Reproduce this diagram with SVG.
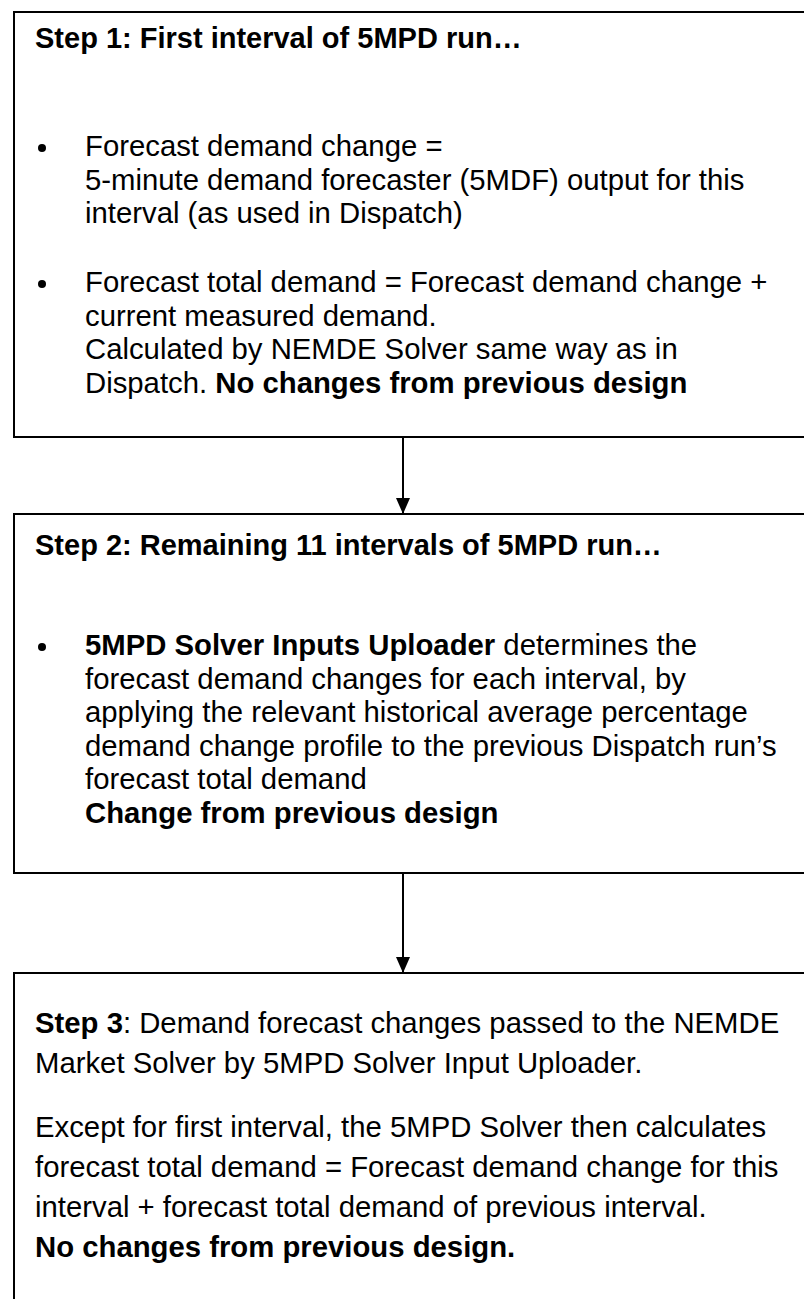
<svg xmlns="http://www.w3.org/2000/svg" width="804" height="1299" viewBox="0 0 804 1299">
<defs>
<style>
.box{fill:#fff;stroke:#000;stroke-width:2}
.t{font-family:"Liberation Sans",Arial,Helvetica,sans-serif;font-size:29.3px;fill:#000}
.h{font-family:"Liberation Sans",Arial,Helvetica,sans-serif;font-size:29px;font-weight:bold;fill:#000}
.b{font-weight:bold}
.c{stroke:#000;stroke-width:2;fill:none}
</style>
<marker id="ah" viewBox="0 0 16 14" refX="16" refY="7" markerWidth="16" markerHeight="14" markerUnits="userSpaceOnUse" orient="auto"><path d="M0,0 L16,7 L0,14 Z" fill="#000"/></marker>
</defs>
<rect width="804" height="1299" fill="#fff"/>
<g id="connectors">
<line class="c" x1="403" y1="437" x2="403" y2="514" marker-end="url(#ah)"/>
<line class="c" x1="403" y1="873" x2="403" y2="973" marker-end="url(#ah)"/>
</g>
<g id="step1">
<rect class="box" x="14" y="12" width="800" height="425"/>
<text class="h" x="35" y="48">Step 1: First interval of 5MPD run…</text>
<circle cx="42" cy="148" r="4"/>
<text class="t" x="85" y="156">Forecast demand change =</text>
<text class="t" x="85" y="189.5">5-minute demand forecaster (5MDF) output for this</text>
<text class="t" x="85" y="223">interval (as used in Dispatch)</text>
<circle cx="42" cy="284" r="4"/>
<text class="t" x="85" y="292">Forecast total demand = Forecast demand change +</text>
<text class="t" x="85" y="325.5">current measured demand.</text>
<text class="t" x="85" y="359">Calculated by NEMDE Solver same way as in</text>
<text class="t" x="85" y="392.5">Dispatch. <tspan class="b">No changes from previous design</tspan></text>
</g>
<g id="step2">
<rect class="box" x="14" y="514" width="800" height="359"/>
<text class="h" x="35" y="555">Step 2: Remaining 11 intervals of 5MPD run…</text>
<circle cx="42" cy="647" r="4"/>
<text class="t" x="85" y="655"><tspan class="b">5MPD Solver Inputs Uploader</tspan> determines the</text>
<text class="t" x="85" y="688.5">forecast demand changes for each interval, by</text>
<text class="t" x="85" y="722">applying the relevant historical average percentage</text>
<text class="t" x="85" y="755.5">demand change profile to the previous Dispatch run’s</text>
<text class="t" x="85" y="789">forecast total demand</text>
<text class="t b" x="85" y="822.5">Change from previous design</text>
</g>
<g id="step3">
<rect class="box" x="14" y="973" width="800" height="340"/>
<text class="t" x="35" y="1033"><tspan class="b">Step 3</tspan>: Demand forecast changes passed to the NEMDE</text>
<text class="t" x="35" y="1073">Market Solver by 5MPD Solver Input Uploader.</text>
<text class="t" x="35" y="1137">Except for first interval, the 5MPD Solver then calculates</text>
<text class="t" x="35" y="1177">forecast total demand = Forecast demand change for this</text>
<text class="t" x="35" y="1217">interval + forecast total demand of previous interval.</text>
<text class="t b" x="35" y="1257">No changes from previous design.</text>
</g>
</svg>
